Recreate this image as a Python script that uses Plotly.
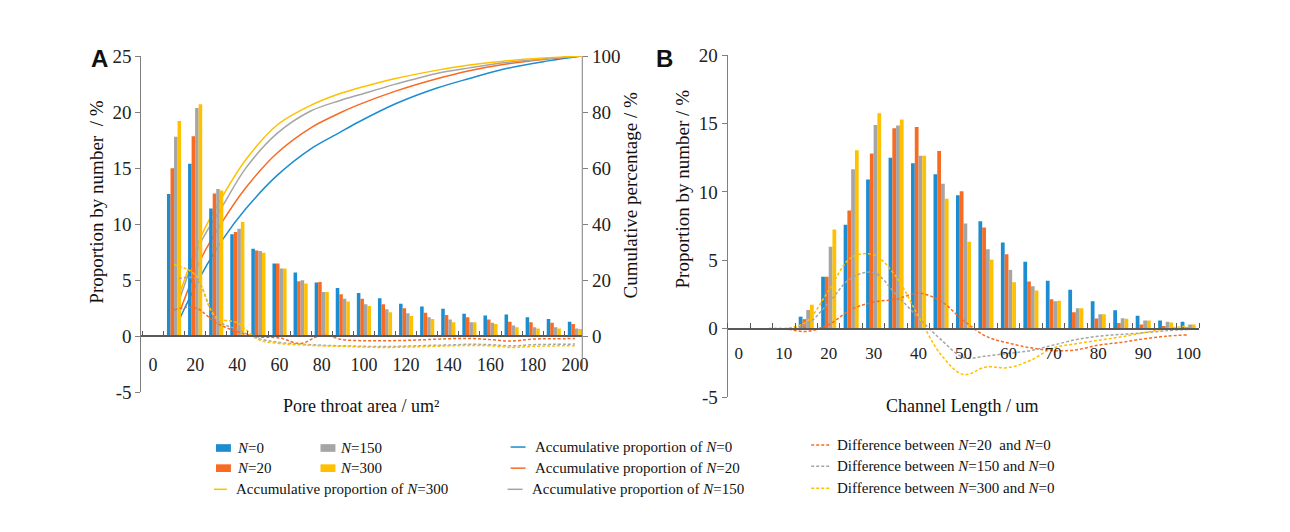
import plotly.graph_objects as go

W, H = 1290, 532

# ---------------- Panel A data ----------------
a_x = [10, 20, 30, 40, 50, 60, 70, 80, 90, 100, 110, 120, 130, 140, 150, 160, 170, 180, 190, 200]
a_n0 = [12.7, 15.4, 11.4, 9.1, 7.8, 6.5, 5.7, 4.8, 4.3, 3.85, 3.4, 2.9, 2.65, 2.45, 2.0, 1.85, 1.95, 1.7, 1.55, 1.3]
a_n20 = [15.0, 17.85, 12.75, 9.3, 7.65, 6.5, 4.9, 4.85, 3.75, 3.35, 2.85, 2.5, 2.1, 1.9, 1.7, 1.5, 1.3, 1.25, 1.2, 1.1]
a_n150 = [17.8, 20.37, 13.15, 9.6, 7.6, 6.05, 5.0, 3.95, 3.35, 2.85, 2.4, 2.05, 1.7, 1.5, 1.25, 1.2, 0.97, 0.8, 0.8, 0.7]
a_n300 = [19.2, 20.7, 13.0, 10.2, 7.45, 6.05, 4.7, 3.95, 3.1, 2.7, 2.15, 1.8, 1.55, 1.25, 1.25, 1.1, 0.8, 0.7, 0.7, 0.65]

a_d20 = [2.35, 2.55, 1.2, 0.4, -0.05, -0.15, -0.65, 0.1, -0.3, -0.4, -0.4, -0.37, -0.3, -0.22, -0.2, -0.3, -0.43, -0.25, -0.23, -0.2]
a_d150 = [5.0, 5.15, 1.5, 0.6, -0.2, -0.55, -0.7, -0.8, -0.85, -0.9, -0.92, -0.88, -0.82, -0.78, -0.72, -0.75, -0.86, -0.75, -0.72, -0.7]
a_d300 = [6.4, 5.5, 1.7, 1.2, -0.3, -0.65, -0.77, -0.85, -0.9, -0.97, -1.0, -0.97, -0.92, -0.86, -0.82, -0.85, -1.0, -0.9, -0.86, -0.85]

a_cum_x = [13, 23, 33, 44, 59, 75, 88, 97, 115, 135, 150, 166, 185, 203]
a_cum0 = [6.8, 22, 34.5, 45.5, 57.5, 67, 72.5, 76.3, 83, 88.7, 92, 95.3, 98, 100]
a_cum20 = [9.4, 28, 41, 53, 65.5, 74.5, 79.5, 82.5, 87.5, 92, 94.8, 97, 98.8, 100]
a_cum150 = [14, 34, 46.5, 60, 72.5, 80.5, 84, 86, 90, 93.9, 95.8, 97.6, 99, 100]
a_cum300 = [16, 36, 50, 63, 75.5, 82.5, 86.5, 88.5, 92, 95, 96.8, 98.2, 99.3, 100]

a_xticks = [0, 20, 40, 60, 80, 100, 120, 140, 160, 180, 200]
a_yticks = [-5, 0, 5, 10, 15, 20, 25]
a_ylabels = ["-5", "0", "5", "10", "15", "20", "25"]
a_y2ticks = [0, 20, 40, 60, 80, 100]

# ---------------- Panel B data ----------------
b_x = [0, 5, 10, 15, 20, 25, 30, 35, 40, 45, 50, 55, 60, 65, 70, 75, 80, 85, 90, 95, 100]
b_n0 = [0, 0, 0, 0.88, 3.8, 7.6, 10.9, 12.5, 12.1, 11.3, 9.75, 7.85, 6.3, 4.9, 3.5, 2.85, 2.0, 1.35, 0.95, 0.6, 0.5]
b_n20 = [0, 0, 0, 0.7, 3.8, 8.65, 12.8, 14.65, 14.75, 13.0, 10.05, 7.4, 5.45, 3.45, 2.15, 1.2, 0.75, 0.42, 0.3, 0.2, 0.1]
b_n150 = [0, 0, 0, 1.37, 6.0, 11.65, 14.9, 14.85, 12.65, 10.6, 7.7, 5.8, 4.3, 3.1, 2.0, 1.5, 1.05, 0.77, 0.6, 0.5, 0.3]
b_n300 = [0, 0, 0, 1.75, 7.25, 13.05, 15.75, 15.3, 12.65, 9.5, 6.35, 5.05, 3.4, 2.8, 2.05, 1.5, 1.05, 0.73, 0.6, 0.45, 0.3]

b_d20 = [0, 0, 0, -0.2, 0.3, 1.4, 1.95, 2.15, 2.6, 2.0, 0.6, -0.55, -1.05, -1.4, -1.6, -1.55, -1.2, -1.0, -0.75, -0.55, -0.45]
b_d150 = [0, 0, 0, 0.3, 1.9, 3.7, 4.1, 2.5, 0.8, -0.8, -2.1, -2.0, -1.8, -1.6, -1.2, -0.8, -0.55, -0.42, -0.3, -0.15, -0.05]
b_d300 = [0, 0, 0, 0.5, 2.8, 5.2, 5.4, 3.8, 0.9, -1.9, -3.35, -2.8, -2.85, -2.3, -1.4, -1.1, -0.85, -0.6, -0.3, 0.0, 0.2]

b_xticks = [0, 10, 20, 30, 40, 50, 60, 70, 80, 90, 100]
b_yticks = [-5, 0, 5, 10, 15, 20]
b_ylabels = ["-5", "0", "5", "10", "15", "20"]

# ---------------- styling ----------------
C0, C20, C150, C300 = "#1B8DD0", "#F76B22", "#A5A5A5", "#FFC000"
SERIF = "Liberation Serif"
AXC = "#7f7f7f"
XAXC = "#595959"


def px(x):
    return x / W


def py(y):
    return 1 - y / H


fig = go.Figure()

# cumulative lines (base axis -> drawn below bars)
for ys, c in [(a_cum0, C0), (a_cum20, C20), (a_cum150, C150), (a_cum300, C300)]:
    fig.add_trace(go.Scatter(x=a_cum_x, y=ys, mode="lines", xaxis="x", yaxis="y",
                             line=dict(color=c, width=1.5, shape="spline", smoothing=0.9),
                             hoverinfo="skip"))

# bars A
for ys, c in [(a_n0, C0), (a_n20, C20), (a_n150, C150), (a_n300, C300)]:
    fig.add_trace(go.Bar(x=a_x, y=ys, marker=dict(color=c, line=dict(width=0)),
                         xaxis="x", yaxis="y2"))

# difference lines A
for ys, c in [(a_d20, C20), (a_d150, C150), (a_d300, C300)]:
    fig.add_trace(go.Scatter(x=a_x, y=ys, mode="lines", xaxis="x", yaxis="y2",
                             line=dict(color=c, width=1.5, dash="3px,2px", shape="spline", smoothing=1.0),
                             hoverinfo="skip"))

# bars B
for ys, c in [(b_n0, C0), (b_n20, C20), (b_n150, C150), (b_n300, C300)]:
    fig.add_trace(go.Bar(x=b_x, y=ys, marker=dict(color=c, line=dict(width=0)),
                         xaxis="x2", yaxis="y3"))

# difference lines B
for ys, c in [(b_d20, C20), (b_d150, C150), (b_d300, C300)]:
    fig.add_trace(go.Scatter(x=b_x, y=ys, mode="lines", xaxis="x2", yaxis="y3",
                             line=dict(color=c, width=1.5, dash="3px,2px", shape="spline", smoothing=1.0),
                             hoverinfo="skip"))

# domains (pixel based)
A_L, A_R, A_T, A_B = 142, 585, 48, 398
B_L, B_R, B_T, B_B = 731, 1205, 47, 403
A_ZERO = A_T + (A_B - A_T) * 25 / 30
B_ZERO = B_T + (B_B - B_T) * 20 / 25

tickfont_y = dict(family=SERIF, size=19, color="#222")
tickfont_x = dict(family=SERIF, size=18, color="#222")

fig.update_layout(
    width=W, height=H,
    margin=dict(l=0, r=0, t=0, b=0),
    paper_bgcolor="white", plot_bgcolor="rgba(0,0,0,0)",
    showlegend=False,
    barmode="group", bargap=0.33, bargroupgap=0,
    font=dict(family=SERIF, color="#222"),
    xaxis=dict(domain=[px(A_L), px(A_R)], range=[-5.5, 203.5], anchor="free", position=py(A_ZERO),
               tickmode="array", tickvals=a_xticks, ticks="", showline=True, linecolor=XAXC, linewidth=1.5,
               showgrid=False, zeroline=False, tickfont=tickfont_x, ticklabelstandoff=12,
               minor=dict(tickmode="linear", tick0=5, dtick=10, ticks="inside", ticklen=5,
                          tickcolor=XAXC, tickwidth=1, showgrid=False)),
    yaxis=dict(domain=[py(A_B), py(A_T)], range=[-20, 100], side="right", anchor="x",
               tickmode="array", tickvals=a_y2ticks, ticks="outside", ticklen=5, tickcolor=AXC,
               showline=False, showgrid=False, zeroline=False, tickfont=tickfont_y),
    yaxis2=dict(range=[-5, 25], side="left", overlaying="y", anchor="x",
                tickmode="array", tickvals=a_yticks, ticktext=a_ylabels, ticks="outside", ticklen=5,
                tickcolor=AXC, showline=True, linecolor=AXC, linewidth=1, showgrid=False, zeroline=False,
                tickfont=tickfont_y),
    xaxis2=dict(domain=[px(B_L), px(B_R)], range=[-2.5, 102.5], anchor="free", position=py(B_ZERO),
                tickmode="array", tickvals=b_xticks, ticks="", showline=True, linecolor=XAXC, linewidth=1.5,
                showgrid=False, zeroline=False, tickfont=dict(family=SERIF, size=17, color="#222"),
                ticklabelstandoff=9,
                minor=dict(tickmode="linear", tick0=2.5, dtick=5, ticks="inside", ticklen=5,
                           tickcolor=XAXC, tickwidth=1, showgrid=False)),
    yaxis3=dict(domain=[py(B_B), py(B_T)], range=[-5, 20], side="left", anchor="x2",
                tickmode="array", tickvals=b_yticks, ticktext=b_ylabels, ticks="outside", ticklen=5,
                tickcolor=AXC, showline=True, linecolor=AXC, linewidth=1, showgrid=False, zeroline=False,
                tickfont=tickfont_y),
)

shapes = []
# right axis line of panel A (stops below zero)
shapes.append(dict(type="line", xref="x domain", yref="y", x0=1, x1=1, y0=-11.3, y1=100,
                   line=dict(color=AXC, width=1)))

annotations = []


def ann(text, x, y, size=15, xanchor="left", angle=0, family=SERIF):
    annotations.append(dict(text=text, x=px(x), y=py(y), xref="paper", yref="paper",
                            xanchor=xanchor, yanchor="middle", showarrow=False, textangle=angle,
                            font=dict(family=family, size=size, color="#111")))


# axis titles
ann("Proportion by number  / %", 97, 200, size=19, xanchor="center", angle=-90)
ann("Cumulative percentage / %", 633, 193, size=19, xanchor="center", angle=-90)
ann("Pore throat area / um²", 363, 412, size=18, xanchor="center")
ann("Proportion by number / %", 686, 186, size=19, xanchor="center", angle=-90)
ann("Channel Length / um", 966, 412, size=18, xanchor="center")
# panel labels
ann("<b>A</b>", 100, 51, size=24, xanchor="center", family="Liberation Sans")
ann("<b>B</b>", 668, 50, size=24, xanchor="center", family="Liberation Sans")


# legend
def leg_rect(x0, y, c):
    shapes.append(dict(type="rect", xref="paper", yref="paper", x0=px(x0), x1=px(x0 + 15),
                       y0=py(y + 4), y1=py(y - 4), fillcolor=c, line=dict(width=0)))


def leg_line(x0, x1, y, c, dash="solid"):
    shapes.append(dict(type="line", xref="paper", yref="paper", x0=px(x0), x1=px(x1),
                       y0=py(y), y1=py(y), line=dict(color=c, width=1.5, dash=dash)))


leg_rect(217, 456, C0); ann("<i>N</i>=0", 236, 456)
leg_rect(217, 477, C20); ann("<i>N</i>=20", 236, 477)
leg_rect(322, 456, C150); ann("<i>N</i>=150", 340, 456)
leg_rect(322, 477, C300); ann("<i>N</i>=300", 340, 477)
leg_line(215, 228, 499, C300); ann("Accumulative proportion of <i>N</i>=300", 235, 499)

leg_line(513, 528, 455, C0); ann("Accumulative proportion of <i>N</i>=0", 535, 455)
leg_line(513, 528, 477, C20); ann("Accumulative proportion of <i>N</i>=20", 535, 477)
leg_line(510, 525, 499, C150); ann("Accumulative proportion of <i>N</i>=150", 532, 499)

leg_line(815, 835, 453, C20, "3px,2px"); ann("Difference between <i>N</i>=20  and <i>N</i>=0", 839, 453)
leg_line(815, 835, 475, C150, "3px,2px"); ann("Difference between <i>N</i>=150 and <i>N</i>=0", 839, 475)
leg_line(815, 835, 498, C300, "3px,2px"); ann("Difference between <i>N</i>=300 and <i>N</i>=0", 839, 498)

fig.update_layout(shapes=shapes, annotations=annotations)

fig.write_html("out.html")
